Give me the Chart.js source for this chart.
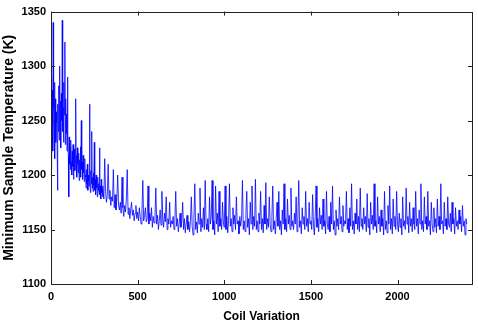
<!DOCTYPE html>
<html lang="en">
<head>
<meta charset="UTF-8">
<script src="https://cdn.jsdelivr.net/npm/chart.js@4"></script>
<title>Coil Variation</title>
<style>
  html, body { margin: 0; padding: 0; background: #fff; }
  .wrap { width: 478px; height: 324px; }
</style>
</head>
<body>
<div class="wrap"><canvas id="chart"></canvas></div>
<script>
// minimum sample temperature (K)
// first 300 coil variations read every 2.5, the rest every 5
const earlyTemps = [
  1205,1290,1250,1278,1222,1340,1262,1235,1285,1215,1270,1230,1258,1248,1228,1186,1265,1240,1282,1232,
  1300,1245,1268,1225,1275,1250,1342,1240,1262,1230,1285,1255,1322,1228,1270,1238,1256,1222,1290,1232,
  1218,1180,1235,1210,1226,1205,1232,1212,1200,1222,1208,1228,1196,1215,1224,1204,1212,1270,1206,1218,
  1198,1225,1210,1202,1220,1195,1214,1206,1226,1198,1250,1205,1212,1196,1218,1202,1210,1194,1215,1200,
  1198,1188,1205,1192,1210,1186,1200,1195,1190,1265,1196,1184,1204,1192,1240,1188,1198,1185,1202,1190,
  1230,1186,1196,1182,1200,1188,1194,1180,1198,1186,1192,1184,1225,1182,1190,1178,1196,1184,1188,1180
];
const laterTemps = [
  1190,1178,1215,1185,1175,1182,1210,1178,1186,1172,1180,1176,1205,1170,1182,1168,1178,1200,1172,1168,
  1175,1165,1198,1170,1162,1172,1166,1178,1205,1164,1170,1160,1168,1175,1163,1168,1158,1165,1172,1160,
  1166,1158,1170,1162,1155,1168,1195,1158,1163,1170,1157,1160,1190,1155,1165,1158,1170,1152,1162,1156,
  1160,1188,1155,1163,1150,1158,1168,1154,1185,1160,1152,1165,1157,1180,1150,1160,1155,1175,1152,1158,
  1155,1162,1150,1158,1185,1153,1160,1148,1156,1165,1152,1158,1175,1150,1160,1147,1155,1163,1150,1157,
  1148,1158,1180,1153,1145,1160,1192,1150,1157,1147,1165,1155,1188,1148,1160,1152,1170,1150,1195,1155,
  1150,1160,1148,1180,1155,1162,1195,1150,1158,1145,1190,1155,1165,1148,1185,1153,1160,1150,1175,1156,
  1152,1190,1150,1162,1147,1158,1192,1153,1160,1148,1170,1155,1163,1150,1180,1155,1158,1146,1162,1153,
  1160,1195,1150,1158,1148,1165,1185,1152,1160,1145,1175,1155,1190,1150,1162,1153,1196,1150,1158,1148,
  1165,1155,1185,1150,1160,1147,1172,1155,1193,1150,1160,1152,1180,1155,1148,1162,1190,1150,1158,1146,
  1160,1175,1153,1185,1150,1158,1145,1168,1155,1192,1150,1160,1148,1178,1155,1163,1150,1188,1153,1158,
  1150,1165,1155,1180,1148,1160,1195,1152,1158,1146,1170,1155,1162,1150,1185,1153,1160,1148,1175,1155,
  1158,1150,1182,1155,1145,1162,1190,1152,1160,1148,1170,1155,1163,1150,1178,1153,1158,1146,1185,1155,
  1150,1162,1148,1175,1155,1190,1150,1158,1145,1168,1153,1160,1150,1180,1155,1162,1148,1172,1153,1158,
  1155,1185,1150,1160,1147,1170,1153,1192,1150,1158,1146,1165,1155,1178,1150,1162,1148,1188,1153,1160,
  1150,1170,1155,1162,1148,1183,1152,1160,1145,1175,1155,1163,1150,1192,1153,1158,1147,1180,1155,1162,
  1148,1168,1153,1160,1145,1185,1150,1158,1147,1172,1155,1190,1150,1160,1146,1178,1153,1162,1150,1185,
  1155,1148,1165,1152,1160,1145,1180,1153,1158,1150,1188,1155,1162,1147,1175,1153,1160,1148,1170,1155,
  1150,1185,1153,1160,1146,1168,1155,1192,1150,1158,1148,1180,1155,1162,1150,1185,1153,1158,1145,1175,
  1155,1148,1170,1152,1160,1147,1178,1153,1162,1150,1192,1155,1158,1146,1175,1153,1160,1150,1180,1155,
  1152,1165,1148,1175,1155,1160,1146,1170,1153,1158,1150,1168,1155,1162,1148,1172,1153,1158,1145,1160,
  1155
];
const earlyCoil = earlyTemps.map((_, i) => i * 2.5);
const laterCoil = laterTemps.map((_, i) => 300 + i * 5);
const xTicks = [0, 500, 1000, 1500, 2000];
const yTicks = [1100, 1150, 1200, 1250, 1300, 1350];

const family = 'Liberation Sans, Arial, sans-serif';
const tickFont = { family, size: 11, weight: 'bold' };

const points = earlyTemps.map((t, i) => ({ x: earlyCoil[i], y: t }))
  .concat(laterTemps.map((t, i) => ({ x: laterCoil[i], y: t })));

// matlab style box with ticks pointing inward on every side
const boxTicks = {
  id: 'boxTicks',
  afterDraw(chart) {
    const { ctx, chartArea: a, scales: { x, y } } = chart;
    ctx.save();
    ctx.strokeStyle = '#222';
    ctx.lineWidth = 1;
    ctx.strokeRect(Math.round(a.left) + 0.5, Math.round(a.top) + 0.5,
      Math.round(a.right - a.left), Math.round(a.bottom - a.top));
    ctx.beginPath();
    xTicks.forEach(v => {
      const px = Math.round(x.getPixelForValue(v)) + 0.5;
      ctx.moveTo(px, a.bottom); ctx.lineTo(px, a.bottom - 4);
      ctx.moveTo(px, a.top); ctx.lineTo(px, a.top + 4);
    });
    yTicks.forEach(v => {
      const py = Math.round(y.getPixelForValue(v)) + 0.5;
      ctx.moveTo(a.left, py); ctx.lineTo(a.left + 4, py);
      ctx.moveTo(a.right, py); ctx.lineTo(a.right - 4, py);
    });
    ctx.stroke();
    ctx.restore();
  }
};

new Chart(document.getElementById('chart'), {
  type: 'line',
  data: {
    datasets: [{
      data: points,
      borderColor: '#0000ff',
      borderWidth: 0.8,
      pointRadius: 0,
      tension: 0,
      fill: false
    }]
  },
  options: {
    responsive: true,
    maintainAspectRatio: false,
    animation: false,
    events: [],
    layout: { padding: { top: 11, right: 6, left: 0, bottom: 0 } },
    plugins: { legend: { display: false }, tooltip: { enabled: false } },
    scales: {
      x: {
        type: 'linear',
        min: 0,
        max: 2430,
        afterBuildTicks: s => { s.ticks = xTicks.map(v => ({ value: v })); },
        afterFit: s => { s.height = 40; },
        grid: { display: false, drawTicks: false },
        border: { display: false },
        ticks: { font: tickFont, color: '#000', padding: 6, maxRotation: 0, callback: v => String(v) },
        title: { display: true, text: 'Coil Variation', font: { family, size: 12, weight: 'bold' }, color: '#000', padding: { top: 2, bottom: 0 } }
      },
      y: {
        min: 1100,
        max: 1350,
        afterBuildTicks: s => { s.ticks = yTicks.map(v => ({ value: v })); },
        afterFit: s => { s.width = 51; },
        grid: { display: false, drawTicks: false },
        border: { display: false },
        ticks: { font: tickFont, color: '#000', padding: 5, callback: v => String(v) },
        title: { display: true, text: 'Minimum Sample Temperature (K)', font: { family, size: 14, weight: 'bold' }, color: '#000', padding: { top: 1, bottom: 0 } }
      }
    }
  },
  plugins: [boxTicks]
});
</script>
</body>
</html>
